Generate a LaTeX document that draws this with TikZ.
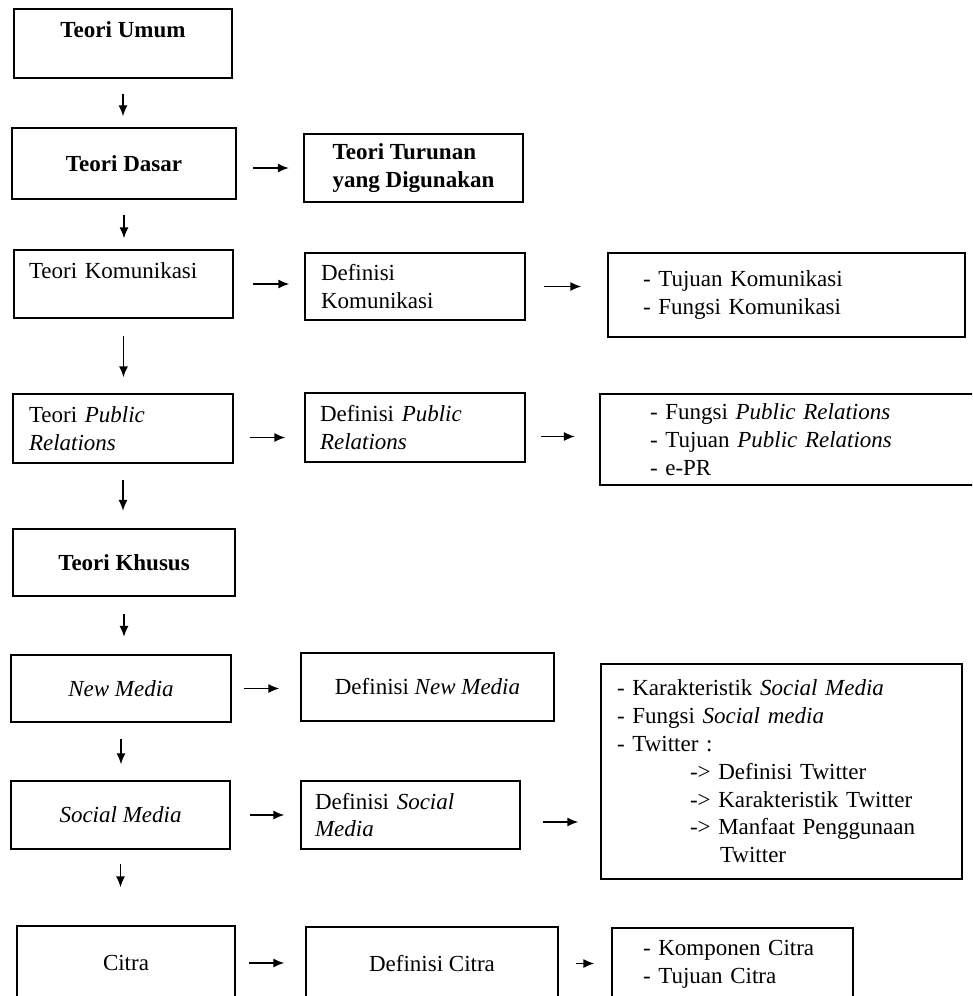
\documentclass[tikz,border=0pt]{standalone}
\usepackage{fontspec}
\setmainfont{Liberation Serif}
\usepackage{tikz}
\usetikzlibrary{arrows,arrows.meta}

\begin{document}
\begin{tikzpicture}[%
		x=1pt, y=-1pt,
		font=\fontsize{23}{27.8}\selectfont,
		>={Latex[length=11pt,width=9pt]},
		kotak/.style={draw, line width=1.3pt, inner ysep=0pt, minimum height=68pt},
		kotaktebal/.style={kotak, line width=2.2pt},
		kiri/.style={align=left, inner xsep=#1},
		panah/.style={->, line width=1.5pt, shorten <=15pt, shorten >=14pt}
		]

		%% Rahmen des Bildes
		\useasboundingbox (0,0) rectangle (972,996);
		\clip (0,0) rectangle (972,996);

		%% linke Spalte
		\node [kotak, minimum width=218pt, minimum height=69pt, align=center] (umum) at (123,43.5) {\textbf{Teori Umum}\\~};
		\node [kotak, minimum width=224pt, minimum height=71pt] (dasar) at (124,163.5) {\textbf{Teori Dasar}};
		\node [kotak, minimum width=219pt, kiri=15pt, text width=189pt] (kom) at (123.5,284) {Teori Komunikasi\\~};
		\node [kotak, minimum width=220pt, minimum height=69pt, kiri=16pt, text width=188pt] (pr) at (123,428.5) {Teori \textit{Public}\\\textit{Relations}};
		\node [kotaktebal, minimum width=222pt, minimum height=67pt] (khusus) at (124,562.5) {\textbf{Teori Khusus}};
		\node [kotaktebal, minimum width=220pt, minimum height=67pt] (nm) at (121,688.5) {\textit{New Media}};
		\node [kotak, minimum width=219pt] (sm) at (120.5,815) {\textit{Social Media}};
		\node [kotak, minimum width=218pt, minimum height=74pt] (citra) at (126,963) {Citra};

		%% mittlere Spalte
		\node [kotaktebal, minimum width=219pt, align=left] (turunan) at (413.5,168) {\textbf{Teori Turunan}\\\textbf{yang Digunakan}};
		\node [kotak, minimum width=220pt, minimum height=67pt, kiri=16pt, text width=188pt] (defkom) at (415,286.5) {Definisi\\Komunikasi};
		\node [kotak, minimum width=220pt, minimum height=69pt, kiri=15pt, text width=190pt] (defpr) at (415,427.5) {Definisi \textit{Public}\\\textit{Relations}};
		\node [kotak, minimum width=253pt] (defnm) at (427.5,687) {Definisi \textit{New Media}};
		\node [kotak, minimum width=219pt, kiri=14pt, text width=191pt] (defsm) at (410.5,815) {Definisi \textit{Social}\\\textit{Media}};
		\node [kotak, minimum width=252pt, minimum height=73pt] (defcitra) at (432,963.5) {Definisi Citra};

		%% rechte Spalte
		\node [kotak, minimum width=357pt, minimum height=84pt, kiri=35pt, text width=287pt] (tujuan) at (786.5,295) {- Tujuan Komunikasi\\- Fungsi Komunikasi};
		\node [kotaktebal, minimum width=375pt, minimum height=91pt, kiri=50pt, text width=275pt] (fungsipr) at (787.5,439.5) {- Fungsi \textit{Public Relations}\\- Tujuan \textit{Public Relations}\\- e-PR};
		\node [kotak, minimum width=361pt, minimum height=215pt, kiri=16pt, text width=329pt] (karakter) at (781.5,771.5) {%
			- Karakteristik \textit{Social Media}\\
			- Fungsi \textit{Social media}\\
			- Twitter :\\
			\hspace*{73pt}-> Definisi Twitter\\
			\hspace*{73pt}-> Karakteristik Twitter\\
			\hspace*{73pt}-> Manfaat Penggunaan\\
			\hspace*{103pt}Twitter};
		\node [kotak, minimum width=241pt, minimum height=72pt, kiri=31pt, text width=179pt] (komponen) at (732.5,964) {- Komponen Citra\\- Tujuan Citra};

		%% Pfeile nach unten
		\draw [panah, shorten >=11pt] (umum.south) -- (umum.south |- dasar.north);
		\draw [panah, shorten >=11pt] (dasar.south) -- (dasar.south |- kom.north);
		\draw [panah, shorten <=17pt, shorten >=16pt] (kom.south) -- (kom.south |- pr.north);
		\draw [panah, shorten <=16pt, shorten >=17pt] (pr.south) -- (pr.south |- khusus.north);
		\draw [panah, shorten <=17pt, shorten >=17pt] (khusus.south) -- (khusus.south |- nm.north);
		\draw [panah, shorten <=16pt, shorten >=16pt] (nm.south) -- (nm.south |- sm.north);
		\draw [panah, shorten <=14pt, shorten >=38pt] (sm.south) -- (sm.south |- citra.north);

		%% Pfeile nach rechts
		\draw [panah, shorten <=16pt] (dasar.east |- turunan.west) -- (turunan.west);
		\draw [panah, shorten <=19pt, shorten >=15pt] (kom.east) -- (defkom.west |- kom.east);
		\draw [panah, shorten <=18pt, shorten >=26pt] (defkom.east) -- (tujuan.west |- defkom.east);
		\draw [panah, shorten <=16pt, shorten >=19pt] ([yshift=-9pt]pr.east) -- ([yshift=-9pt]pr.east -| defpr.west);
		\draw [panah, shorten >=24pt] ([yshift=-9pt]defpr.east) -- ([yshift=-9pt]defpr.east -| fungsipr.west);
		\draw [panah, shorten <=12pt, shorten >=21pt] (nm.east) -- (defnm.west |- nm.east);
		\draw [panah, shorten <=19pt, shorten >=16pt] (sm.east) -- (defsm.west |- sm.east);
		\draw [panah, shorten <=22pt, shorten >=22pt] ([yshift=-7pt]defsm.east) -- ([yshift=-7pt]defsm.east -| karakter.west);
		\draw [panah, shorten <=13pt, shorten >=21pt] (citra.east) -- (defcitra.west |- citra.east);
		\draw [panah, shorten <=17pt, shorten >=17pt] (defcitra.east) -- (komponen.west |- defcitra.east);

	\end{tikzpicture}
\end{document}
